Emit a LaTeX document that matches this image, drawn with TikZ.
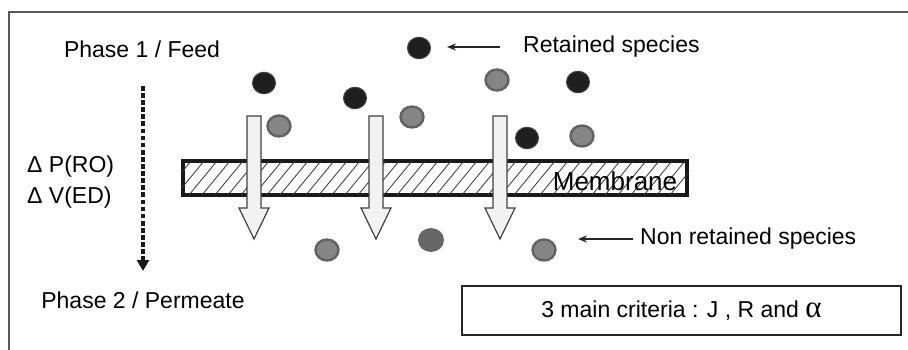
\documentclass[tikz,border=0pt]{standalone}
\usepackage{fontspec}
\setmainfont{Liberation Sans}
\newfontfamily\symfont{Liberation Serif}
\usetikzlibrary{arrows.meta,shapes.geometric}

\tikzset{
  lbl/.style={inner sep=0pt, font=\fontsize{23}{27}\selectfont},
  blackdot/.style={ellipse, inner sep=0pt, minimum width=23pt, minimum height=21.5pt, fill=black!88, draw=black!75, line width=1pt},
  greydot/.style={ellipse, inner sep=0pt, minimum width=23pt, minimum height=21pt, fill=black!48, draw=black!62, line width=2.4pt},
  passdot/.style={ellipse, inner sep=0pt, minimum width=26pt, minimum height=24pt, fill=black!60},
  flow/.style={fill=black!5, draw=black!75, line width=1.2pt, line join=miter},
  pointer/.style={-{Stealth[length=9pt,width=7pt]}, line width=1.5pt, black!85},
  hatch/.style={line width=0.8pt, black!80}
}

\begin{document}
\begin{tikzpicture}[x=1pt, y=-1pt]

\useasboundingbox (0,0) rectangle (908,350);
\draw[black!65, line width=1.5pt] (9,350) -- (9,12) -- (908,12);

% phases and driving force
\node[lbl] (feed) at (142,49) {Phase 1 / Feed};
\node[lbl] (perm) at (143,300) {Phase 2 / Permeate};
\node[lbl, anchor=west] (dp) at (27,167) {Δ P(RO)};
\node[lbl, anchor=west] (dv) at (27,198) {Δ V(ED)};

\coordinate (force top) at (143,86);
\coordinate (force end) at (143,271);
\draw[line width=4.7pt, dash pattern=on 4.7pt off 2.4pt, -{Triangle[length=11pt,width=12pt]}, black!90] (force top) -- (force end);

% membrane
\node[draw=black!90, line width=3.5pt, minimum width=504pt, minimum height=34pt, inner sep=0pt] (mem) at (435,178) {};
\begin{scope}
  \clip (mem.south west) rectangle (mem.north east);
  \foreach \i in {0,...,40}
    \draw[hatch] ({150+13*\i},195) -- ++(28,-34);
\end{scope}
\node[font=\fontsize{26}{30}\selectfont, inner sep=0pt] (memtext) at (615,181) {Membrane};

% transport through the membrane
\foreach \x in {254,376,500}
  \draw[flow] (\x-7,116) -- (\x+7,116) -- (\x+7,208) -- (\x+15,208) -- (\x,239)
    -- (\x-15,208) -- (\x-7,208) -- cycle;

% species in the feed
\node[blackdot] (legdot) at (419,48) {};
\node[blackdot] (b1) at (264,83) {};
\node[blackdot] (b2) at (355,98) {};
\node[blackdot] (b3) at (578,82) {};
\node[blackdot] (b4) at (527,138) {};
\node[greydot] (g1) at (279,126) {};
\node[greydot] (g2) at (412,117) {};
\node[greydot] (g3) at (497,80) {};
\node[greydot] (g4) at (582,136) {};

% species in the permeate
\node[greydot] (p1) at (327,250) {};
\node[passdot] (p2) at (431,240) {};
\node[greydot] (p3) at (544,250) {};

% legend
\node[lbl, anchor=west] (retlabel) at (523,47) {Retained species};
\node[lbl, anchor=west] (nonlabel) at (640,239) {Non retained species};
\draw[pointer] ([xshift=-23pt]retlabel.west) -- ([xshift=-76pt]retlabel.west);
\draw[pointer] ([xshift=-7pt]nonlabel.west) -- ([xshift=-62pt]nonlabel.west);

\node[draw=black!85, line width=1.5pt, minimum width=439pt, minimum height=49pt, lbl] (crit) at (681.5,310.5) {3 main criteria : J , R and {\symfont\fontsize{31}{31}\selectfont α}};

\end{tikzpicture}
\end{document}
